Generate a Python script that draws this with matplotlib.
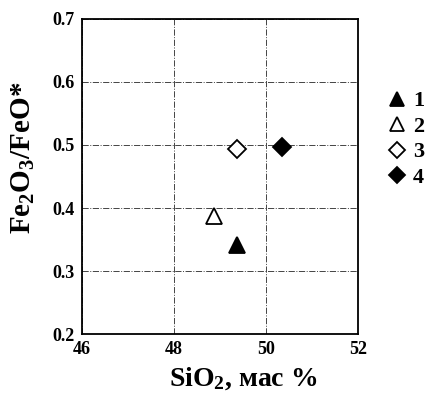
import numpy as np
import matplotlib.pyplot as plt

plt.rcParams['font.family'] = ['Liberation Serif', 'DejaVu Serif']
plt.rcParams['font.weight'] = 'bold'
plt.rcParams['mathtext.fontset'] = 'custom'
plt.rcParams['mathtext.rm'] = 'Liberation Serif:bold'
plt.rcParams['mathtext.default'] = 'rm'

# данные
labels = ['1', '2', '3', '4']
sio2 = [49.37, 48.87, 49.37, 50.35]
ratio = [0.341, 0.387, 0.494, 0.497]
markers = ['^', '^', 'D', 'D']
filled = [True, False, False, True]
sizes = [12, 12, 9, 9]

fig = plt.figure(figsize=(4.33, 3.94), dpi=100)
ax = fig.add_axes([0.189, 0.152, 0.638, 0.8])

for i in range(len(labels)):
    ax.plot(sio2[i], ratio[i], linestyle='none', marker=markers[i],
            markersize=sizes[i], markeredgecolor='black', markeredgewidth=1.3,
            markerfacecolor='black' if filled[i] else 'white',
            label=labels[i], clip_on=False)

ax.set_xlim(46, 52)
ax.set_ylim(0.2, 0.7)
ax.set_xticks([46, 48, 50, 52])
ax.set_yticks([0.2, 0.3, 0.4, 0.5, 0.6, 0.7])
ax.tick_params(length=0, labelsize=13, pad=5)
ax.grid(True, color='#444444', linestyle='-.', linewidth=0.7)
for s in ax.spines.values():
    s.set_linewidth(1.3)

ax.set_xlabel(r'SiO$_2$, мас %', fontsize=20, fontweight='bold')
ax.xaxis.set_label_coords(0.583, -0.098, transform=ax.transAxes)
ax.xaxis.label.set_va('top')
ax.set_ylabel(r'Fe$_2$O$_3$/FeO*', fontsize=21, fontweight='bold')
ax.yaxis.set_label_coords(-0.21, 0.56, transform=ax.transAxes)
ax.yaxis.label.set_va('center')

ax.legend(loc='upper left', bbox_to_anchor=(1.07, 0.8), frameon=False,
          fontsize=16, handletextpad=0.2, labelspacing=0.22,
          handlelength=1.0, borderaxespad=0, markerscale=0.85)

fig.savefig('out.png', dpi=100)
